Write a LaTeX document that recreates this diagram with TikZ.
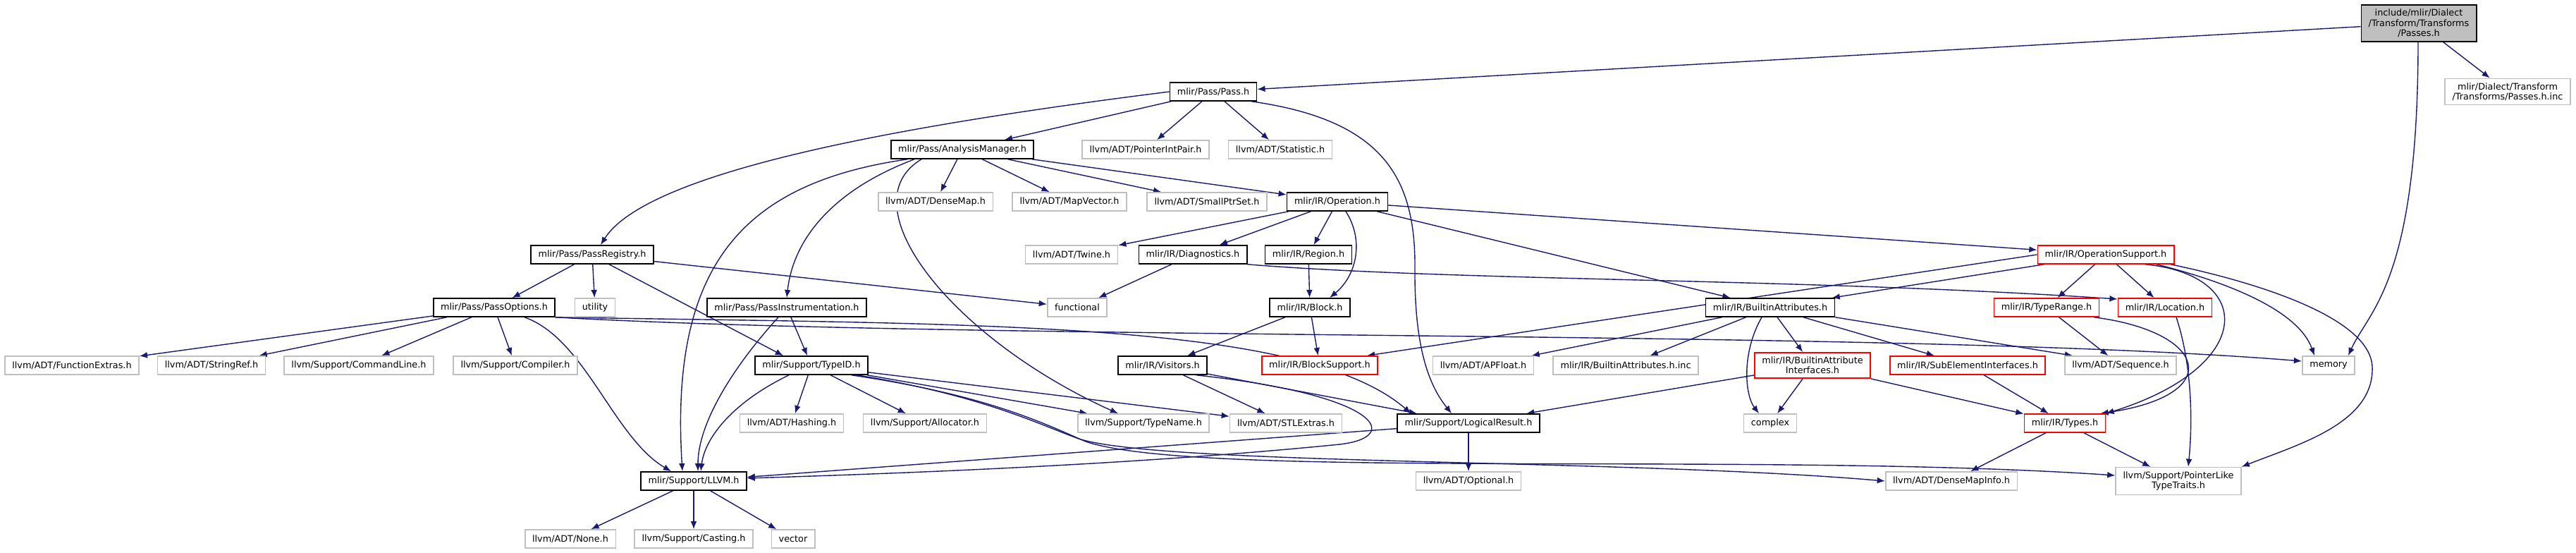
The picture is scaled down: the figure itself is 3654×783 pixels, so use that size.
\documentclass[tikz,border=0pt]{standalone}
\usepackage{fontspec}
\setmainfont{DejaVu Sans}
\usepackage{tikz}
\usetikzlibrary{arrows.meta,backgrounds}

\definecolor{inclblue}{HTML}{191970}
\definecolor{extgrey}{HTML}{BFBFBF}

\begin{document}
\begin{tikzpicture}[
    x=0.25pt, y=-0.25pt,
    hdrbox/.style={draw, rectangle, align=center, fill=white, font=\fontsize{3.2}{3.6}\selectfont, inner xsep=2.6pt, inner ysep=1.5pt, minimum height=6.5pt, line width=0.4pt},
    docfile/.style={hdrbox, draw=black},
    extfile/.style={hdrbox, draw=extgrey},
    cutfile/.style={hdrbox, draw=red},
    mainfile/.style={hdrbox, draw=black, fill=extgrey},
    incl/.style={-{Latex[length=2.8pt,width=2.2pt]}, draw=inclblue, line width=0.35pt}
]
\useasboundingbox (0,0) rectangle (3654,783);

% the header itself
\node[mainfile] (passes) at (3431,33) {include/mlir/Dialect\\/Transform/Transforms\\/Passes.h};
% row 1
\node[docfile] (pass) at (1721,130) {mlir/Pass/Pass.h};
\node[extfile] (passesinc) at (3557,130) {mlir/Dialect/Transform\\/Transforms/Passes.h.inc};
% row 2
\node[docfile] (anamgr) at (1365,212) {mlir/Pass/AnalysisManager.h};
\node[extfile] (ptrintpair) at (1625,212) {llvm/ADT/PointerIntPair.h};
\node[extfile] (statistic) at (1816,212) {llvm/ADT/Statistic.h};
% row 3
\node[extfile] (densemap) at (1327,286) {llvm/ADT/DenseMap.h};
\node[extfile] (mapvector) at (1517,286) {llvm/ADT/MapVector.h};
\node[extfile] (smallptrset) at (1712,286) {llvm/ADT/SmallPtrSet.h};
\node[docfile] (operation) at (1897,286) {mlir/IR/Operation.h};
% row 4
\node[docfile] (registry) at (840,361) {mlir/Pass/PassRegistry.h};
\node[extfile] (twine) at (1520,361) {llvm/ADT/Twine.h};
\node[docfile] (diagnostics) at (1692,361) {mlir/IR/Diagnostics.h};
\node[docfile] (region) at (1856,361) {mlir/IR/Region.h};
\node[cutfile] (opsupport) at (2987,361) {mlir/IR/OperationSupport.h};
% row 5
\node[docfile] (passopts) at (701,436) {mlir/Pass/PassOptions.h};
\node[extfile] (utility) at (844,436) {utility};
\node[docfile] (instrument) at (1116,436) {mlir/Pass/PassInstrumentation.h};
\node[extfile] (functional) at (1528,436) {functional};
\node[docfile] (block) at (1858,436) {mlir/IR/Block.h};
\node[docfile] (builtinattrs) at (2511,436) {mlir/IR/BuiltinAttributes.h};
\node[cutfile] (typerange) at (2903,436) {mlir/IR/TypeRange.h};
\node[cutfile] (location) at (3071,436) {mlir/IR/Location.h};
% row 6
\node[extfile] (funcextras) at (102,518) {llvm/ADT/FunctionExtras.h};
\node[extfile] (stringref) at (300,518) {llvm/ADT/StringRef.h};
\node[extfile] (cmdline) at (509,518) {llvm/Support/CommandLine.h};
\node[extfile] (compiler) at (731,518) {llvm/Support/Compiler.h};
\node[docfile] (typeid) at (1151,518) {mlir/Support/TypeID.h};
\node[docfile] (visitors) at (1649,518) {mlir/IR/Visitors.h};
\node[cutfile] (blocksupport) at (1872,518) {mlir/IR/BlockSupport.h};
\node[extfile] (apfloat) at (2104,518) {llvm/ADT/APFloat.h};
\node[extfile] (attrsinc) at (2306,518) {mlir/IR/BuiltinAttributes.h.inc};
\node[cutfile] (attrintf) at (2571,518) {mlir/IR/BuiltinAttribute\\Interfaces.h};
\node[cutfile] (subelem) at (2791,518) {mlir/IR/SubElementInterfaces.h};
\node[extfile] (sequence) at (3008,518) {llvm/ADT/Sequence.h};
\node[extfile] (memoryh) at (3303,518) {memory};
% row 7
\node[extfile] (hashing) at (1123,600) {llvm/ADT/Hashing.h};
\node[extfile] (allocator) at (1312,600) {llvm/Support/Allocator.h};
\node[extfile] (typename) at (1622,600) {llvm/Support/TypeName.h};
\node[extfile] (stlextras) at (1824,600) {llvm/ADT/STLExtras.h};
\node[docfile] (logicalres) at (2083,600) {mlir/Support/LogicalResult.h};
\node[extfile] (complexh) at (2511,600) {complex};
\node[cutfile] (types) at (2929,600) {mlir/IR/Types.h};
% row 8
\node[docfile] (llvmh) at (984,682) {mlir/Support/LLVM.h};
\node[extfile] (optional) at (2083,682) {llvm/ADT/Optional.h};
\node[extfile] (densemapinfo) at (2768,682) {llvm/ADT/DenseMapInfo.h};
\node[extfile] (ptrliketraits) at (3090,682) {llvm/Support/PointerLike\\TypeTraits.h};
% row 9
\node[extfile] (noneh) at (809,764) {llvm/ADT/None.h};
\node[extfile] (casting) at (984,764) {llvm/Support/Casting.h};
\node[extfile] (vectorh) at (1125,764) {vector};

\begin{pgfonlayer}{background}
\fill[white] (0,0) rectangle (3654,783);

% Passes.h
\draw[incl] (passes) -- (pass);
\draw[incl] (passes) -- (passesinc);
\draw[incl] ([xshift=-0.25pt]passes.south) .. controls (3430,400) and (3360,440) .. ([xshift=-2.5pt]memoryh.north east);

% Pass.h
\draw[incl] (pass) -- (anamgr);
\draw[incl] (pass.west) .. controls (1300,175) and (920,240) .. ([xshift=3pt]registry.north);
\draw[incl] (pass) -- (ptrintpair);
\draw[incl] (pass) -- (statistic);
\draw[incl] ([xshift=-2pt]pass.south east) .. controls (1960,170) and (2008,250) .. (2007,380) .. controls (2006,500) and (2030,550) .. ([xshift=-6pt]logicalres.north);

% AnalysisManager.h
\draw[incl] (anamgr) -- (densemap);
\draw[incl] (anamgr) -- (mapvector);
\draw[incl] (anamgr) -- (smallptrset);
\draw[incl] (anamgr) -- (operation);
\draw[incl] ([xshift=6pt]anamgr.south west) .. controls (1050,260) and (950,380) .. ([xshift=-4pt]llvmh.north);
\draw[incl] ([xshift=8.5pt]anamgr.south west) .. controls (1180,270) and (1125,340) .. (instrument.north);
\draw[incl] ([xshift=11pt]anamgr.south west) .. controls (1200,290) and (1350,480) .. ([xshift=-9pt]typename.north);

% Operation.h
\draw[incl] (operation) -- (twine);
\draw[incl] (operation) -- (diagnostics);
\draw[incl] (operation) -- (region);
\draw[incl] ([xshift=3pt]operation.south) .. controls (1935,340) and (1925,390) .. ([xshift=7pt]block.north);
\draw[incl] (operation) -- (opsupport);
\draw[incl] (operation) -- (builtinattrs);

% Diagnostics.h, Region.h, Block.h
\draw[incl] (diagnostics) -- (functional);
\draw[incl] (diagnostics.south east) .. controls (2070,399) and (2554,394) .. ([yshift=3pt]location.west);
\draw[incl] (region) -- (block);
\draw[incl] (block) -- (visitors);
\draw[incl] (block) -- (blocksupport);

% PassRegistry.h
\draw[incl] (registry) -- (passopts);
\draw[incl] (registry) -- (utility);
\draw[incl] ([xshift=6pt]registry.south) -- ([xshift=-10pt]typeid.north);
\draw[incl] (registry) -- (functional);

% OperationSupport.h
\draw[incl] (opsupport.west) -- ([xshift=-4pt]blocksupport.north east);
\draw[incl] (opsupport) -- (builtinattrs);
\draw[incl] (opsupport) -- (typerange);
\draw[incl] (opsupport) -- (location);
\draw[incl] ([xshift=14pt]opsupport.south) .. controls (3200,390) and (3200,520) .. (types.north east);
\draw[incl] ([xshift=18pt]opsupport.south) .. controls (3160,400) and (3260,440) .. ([xshift=-5pt]memoryh.north);
\draw[incl] ([xshift=23pt]opsupport.south) .. controls (3200,400) and (3362,450) .. (3365,520) .. controls (3368,600) and (3260,630) .. (ptrliketraits.north east);

% TypeRange.h, Location.h
\draw[incl] (typerange) -- (sequence);
\draw[incl] ([xshift=-2pt]typerange.south east) .. controls (3130,470) and (3160,560) .. ([xshift=-2pt]types.north east);
\draw[incl] ([xshift=4pt]location.south) .. controls (3110,520) and (3110,600) .. ([xshift=3.5pt]ptrliketraits.north);

% PassOptions.h
\draw[incl] (passopts) -- (funcextras);
\draw[incl] (passopts) -- (stringref);
\draw[incl] (passopts) -- (cmdline);
\draw[incl] (passopts) -- (compiler);
\draw[incl] ([xshift=-11pt]passopts.south east) .. controls (830,480) and (870,620) .. ([xshift=-8pt]llvmh.north);
\draw[incl] (passopts.south east) .. controls (1400,460) and (1850,455) .. ([xshift=5pt]logicalres.north west);
\draw[incl] (passopts.south east) .. controls (1400,484) and (2700,466) .. ([yshift=1.5pt]memoryh.west);

% PassInstrumentation.h
\draw[incl] (instrument) -- (typeid);
\draw[incl] ([xshift=-3pt]instrument.south) .. controls (1040,520) and (990,600) .. ([xshift=1.5pt]llvmh.north);

% TypeID.h
\draw[incl] (typeid) -- (hashing);
\draw[incl] (typeid) -- (allocator);
\draw[incl] (typeid) -- (typename);
\draw[incl] (typeid) -- (stlextras);
\draw[incl] ([xshift=-8pt]typeid.south) .. controls (1040,570) and (1000,620) .. ([xshift=2.5pt]llvmh.north);
\draw[incl] ([xshift=-4pt]typeid.south east) .. controls (1390,560) and (1470,600) .. (1530,622) .. controls (1650,660) and (2300,650) .. (densemapinfo.west);
\draw[incl] ([xshift=-6pt]typeid.south east) .. controls (1400,560) and (1480,600) .. (1540,626) .. controls (1700,680) and (2500,640) .. ([yshift=2pt]ptrliketraits.west);

% Visitors.h
\draw[incl] (visitors) -- (stlextras);
\draw[incl] (visitors) -- (logicalres);
\draw[incl] ([xshift=-4pt]visitors.south east) .. controls (1960,560) and (1990,620) .. (1900,630) .. controls (1600,660) and (1250,672) .. ([yshift=1pt]llvmh.east);

% BuiltinAttributes.h
\draw[incl] (builtinattrs) -- (apfloat);
\draw[incl] (builtinattrs) -- (attrsinc);
\draw[incl] ([xshift=-3pt]builtinattrs.south) .. controls (2470,500) and (2475,560) .. ([xshift=-4pt]complexh.north);
\draw[incl] (builtinattrs) -- (attrintf);
\draw[incl] (builtinattrs) -- (subelem);
\draw[incl] (builtinattrs.south east) -- ([xshift=3pt]sequence.north west);

% BuiltinAttributeInterfaces.h, SubElementInterfaces.h, Types.h
\draw[incl] (attrintf) -- (logicalres);
\draw[incl] (attrintf) -- (complexh);
\draw[incl] (attrintf) -- (types);
\draw[incl] (subelem) -- (types);
\draw[incl] (types) -- (densemapinfo);
\draw[incl] (types) -- (ptrliketraits);

% LogicalResult.h, LLVM.h
\draw[incl] (logicalres) -- (optional);
\draw[incl] (logicalres) -- (llvmh);
\draw[incl] (llvmh) -- (noneh);
\draw[incl] (llvmh) -- (casting);
\draw[incl] (llvmh) -- (vectorh);
\end{pgfonlayer}

\end{tikzpicture}
\end{document}
